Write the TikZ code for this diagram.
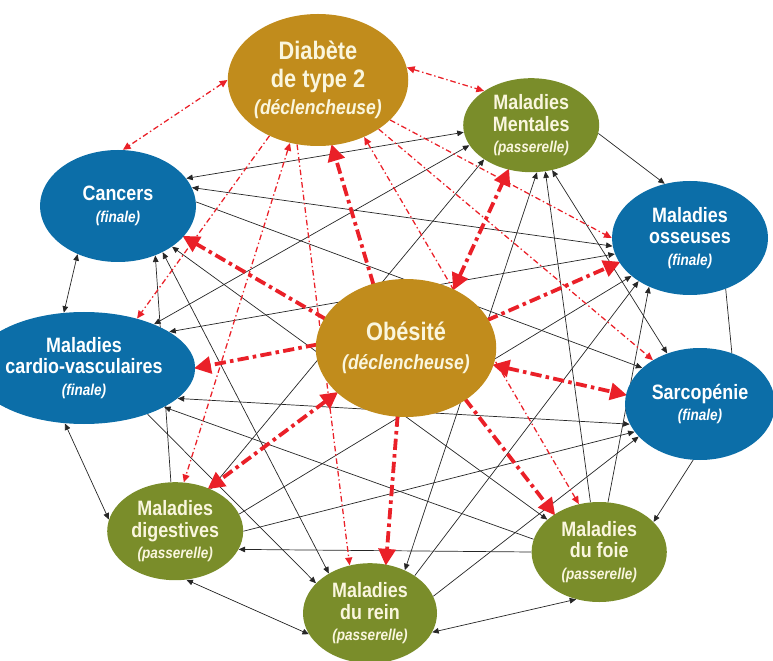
\documentclass[tikz,border=0pt]{standalone}
\usepackage{fontspec}
\setmainfont{Liberation Sans}[FakeStretch=0.86]
\usetikzlibrary{arrows.meta,shapes.geometric}

\definecolor{ochre}{RGB}{193,140,28}
\definecolor{moss}{RGB}{122,141,42}
\definecolor{ocean}{RGB}{12,110,168}
\definecolor{alarm}{RGB}{234,32,40}
\definecolor{cream}{RGB}{250,246,222}

\pgfdeclarelayer{bg}
\pgfsetlayers{bg,main}

% second line of every bubble: (finale), (passerelle), ...
\newcommand\typ[2][11.2]{{\itshape\fontsize{#1}{15.5}\selectfont(#2)}}

\tikzset{
  ill/.style={ellipse,inner sep=0pt,align=center,font=\bfseries\fontsize{14.8}{15.5}\selectfont},
  finale/.style={ill,fill=ocean,text=white},
  passerelle/.style={ill,fill=moss,text=cream},
  trigger/.style={ill,fill=ochre,text=cream,font=\bfseries\fontsize{18}{19.5}\selectfont},
  link/.style={black!85,line width=0.5pt,>={Triangle[length=4.6pt,width=4pt]}},
  obeslink/.style={alarm,line width=2.7pt,dash pattern=on 8pt off 3pt on 2.5pt off 3pt,
    >={Triangle[length=12pt,width=12pt]},shorten >=-1pt,shorten <=-1pt},
  diablink/.style={alarm,line width=0.9pt,dash pattern=on 4pt off 2pt on 1pt off 2pt,
    >={Triangle[length=5.5pt,width=5pt]}}
}

\begin{document}
\begin{tikzpicture}
  \useasboundingbox (0,0) rectangle (19.325,-16.525);

  % trigger diseases
  \node[trigger,minimum width=3.95cm,minimum height=3.3cm] (diab) at (7.95,-2.00)
    {Diabète\\de type 2\\\typ[14.5]{déclencheuse}};
  \node[trigger,minimum width=3.95cm,minimum height=3.45cm] (obes) at (10.15,-8.70)
    {Obésité\\[1pt]\typ[14.5]{déclencheuse}};

  % bridge diseases
  \node[passerelle,minimum width=3.4cm,minimum height=2.35cm] (ment) at (13.28,-3.13)
    {Maladies\\Mentales\\\typ{passerelle}};
  \node[passerelle,minimum width=3.4cm,minimum height=2.45cm] (dig) at (4.38,-13.28)
    {Maladies\\digestives\\\typ{passerelle}};
  \node[passerelle,minimum width=3.35cm,minimum height=2.5cm] (rein) at (9.25,-15.33)
    {Maladies\\du rein\\\typ{passerelle}};
  \node[passerelle,minimum width=3.38cm,minimum height=2.5cm] (foie) at (14.98,-13.80)
    {Maladies\\du foie\\\typ{passerelle}};

  % final diseases
  \node[finale,minimum width=3.9cm,minimum height=2.8cm] (canc) at (2.95,-5.15)
    {Cancers\\\typ{finale}};
  \node[finale,minimum width=3.95cm,minimum height=2.8cm] (cardio) at (2.10,-9.20)
    {Maladies\\cardio-vasculaires\\\typ{finale}};
  \node[finale,minimum width=3.9cm,minimum height=2.85cm] (oss) at (17.25,-5.95)
    {Maladies\\osseuses\\\typ{finale}};
  \node[finale,minimum width=3.75cm,minimum height=2.8cm] (sarco) at (17.50,-10.10)
    {Sarcopénie\\\typ{finale}};

  \begin{pgfonlayer}{bg}
    % black links between bridge and final diseases
    \foreach \a/\b in {canc.230/cardio.110,cardio.251/dig.170,dig.283/rein.199,rein.343/foie.244,
        canc.22/ment.186,canc.14/oss.186,cardio.32/ment.198,cardio.23/oss.192,cardio.342/sarco.196,
        dig.50/ment.216,rein.51/ment.277,ment.295/sarco.123,canc.314/rein.136,canc.323/foie.148}
      \draw[link,<->] (\a) -- (\b);
    \foreach \a/\b in {sarco.263/foie.29,ment.353/oss.115,dig.95/canc.307,dig.15/oss.213,
        dig.0/sarco.203,rein.40/oss.220,rein.15/sarco.208,cardio.324/rein.151,foie.169/cardio.334,
        foie.80/oss.230,foie.100/ment.287,canc.3/sarco.148,foie.180/dig.344}
      \draw[link,->] (\a) -- (\b);
    \draw[link] (oss.305) -- (sarco.58);

    % thin red: diabetes
    \foreach \a/\b in {diab.8/ment.144,diab.180/canc.85,diab.246/dig.80,diab.309/foie.113}
      \draw[diablink,<->] (\a) -- (\b);
    \foreach \a/\b in {diab.229/cardio.43,diab.252/rein.113,diab.321/sarco.137,diab.331/oss.180}
      \draw[diablink,->] (\a) -- (\b);

    % thick red: obesity
    \foreach \a/\b in {obes.51/ment.243,obes.213/dig.52,obes.349/sarco.173}
      \draw[obeslink,<->] (\a) -- (\b);
    \foreach \a/\b in {obes.117/diab.282,obes.160/canc.335,obes.178/cardio.0,obes.263/rein.72,
        obes.319/foie.140,obes.19/oss.199}
      \draw[obeslink,->] (\a) -- (\b);
  \end{pgfonlayer}
\end{tikzpicture}
\end{document}
